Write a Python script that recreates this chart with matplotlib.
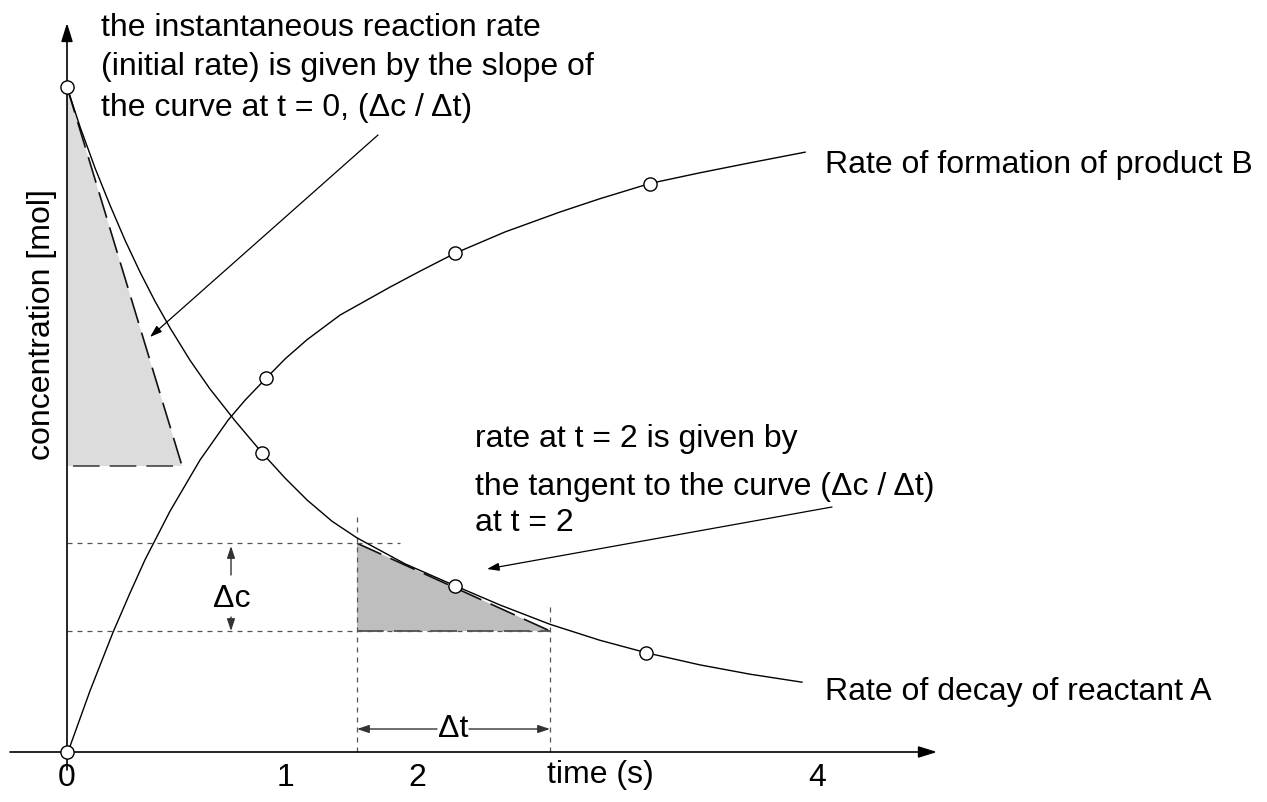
import matplotlib.pyplot as plt

plt.rcParams['font.family'] = ['Liberation Sans', 'DejaVu Sans']

# picture scale: t = 0 sits at px 67, one second = 195 px, concentration 1.0 = 665 px
W, H = 1267, 802
X0, Y0, SX, SY = 67, 752, 195.0, 665.0


def px(x, y):
    return (x - X0) / SX, (Y0 - y) / SY


# reactant A (decay)
decay_t = [0.000, 0.067, 0.144, 0.221, 0.297, 0.374, 0.451, 0.528, 0.631,
           0.733, 0.862, 1.000, 1.118, 1.231, 1.359, 1.487, 1.733, 1.990,
           2.221, 2.477, 2.733, 2.974, 3.246, 3.503, 3.769]
decay_c = [1.000, 0.940, 0.878, 0.822, 0.770, 0.722, 0.678, 0.638, 0.589,
           0.546, 0.498, 0.450, 0.412, 0.379, 0.347, 0.322, 0.283, 0.250,
           0.221, 0.192, 0.168, 0.149, 0.131, 0.117, 0.105]
decay_pts_t = [0.0, 1.0, 1.99, 2.97]
decay_pts_c = [1.0, 0.45, 0.25, 0.149]

# product B (formation)
form_t = [0.005, 0.118, 0.236, 0.323, 0.400, 0.528, 0.682, 0.826, 0.913,
          1.021, 1.118, 1.231, 1.400, 1.656, 1.810, 1.990, 2.246, 2.528,
          2.733, 2.990, 3.246, 3.503, 3.785]
form_c = [0.000, 0.092, 0.180, 0.239, 0.289, 0.362, 0.439, 0.499, 0.529,
          0.562, 0.591, 0.620, 0.657, 0.699, 0.723, 0.750, 0.782, 0.812,
          0.832, 0.855, 0.871, 0.886, 0.902]
form_pts_t = [0.0, 1.02, 1.99, 2.99]
form_pts_c = [0.0, 0.562, 0.750, 0.854]

# tangents (start, end)
tan0_t = [0.0, 0.59]
tan0_c = [1.0, 0.430]
tan2_t = [1.487, 2.477]
tan2_c = [0.314, 0.182]

tick_pos = [0.0, 1.118, 1.795, 3.846]
tick_labels = ['0', '1', '2', '4']
xlabel_pos = 2.733

FS = 23
small_head = dict(arrowstyle='-|>,head_length=0.6,head_width=0.2', color='black',
                  lw=0.9, mutation_scale=12, shrinkA=0, shrinkB=0)
grey_head = dict(small_head, color='#333333', lw=1.0)

fig = plt.figure(figsize=(12.67, 8.02), dpi=100)
ax = fig.add_axes([0, 0, 1, 1])
ax.set_xlim(px(0, 0)[0], px(W, 0)[0])
ax.set_ylim(px(0, H)[1], px(0, 0)[1])
ax.axis('off')

# shaded tangent triangles
ax.fill([tan0_t[0], tan0_t[0], tan0_t[1]], [tan0_c[0], tan0_c[1], tan0_c[1]],
        color='#dcdcdc', lw=0, zorder=1)
ax.fill([tan2_t[0], tan2_t[0], tan2_t[1]], [tan2_c[0], tan2_c[1], tan2_c[1]],
        color='#bebebe', lw=0, zorder=1)

# dashed tangents and bases
ax.plot(tan0_t, tan0_c, color='#111111', lw=1.2, dashes=(16, 6), zorder=2)
ax.plot([0.03, tan0_t[1]], [tan0_c[1]] * 2, color='#444444', lw=1.2, dashes=(16, 6), zorder=2)
ax.plot(tan2_t, tan2_c, color='#111111', lw=1.2, dashes=(16, 6), zorder=2)
ax.plot(tan2_t, [tan2_c[1]] * 2, color='#444444', lw=1.2, dashes=(16, 6), zorder=2)

# dotted guide lines
dot = dict(color='#555555', lw=0.9, dashes=(4, 4), zorder=2)
ax.plot([0, px(400, 0)[0]], [tan2_c[0]] * 2, **dot)
ax.plot([0, tan2_t[1]], [tan2_c[1]] * 2, **dot)
ax.plot([tan2_t[0]] * 2, [0, px(0, 514)[1]], **dot)
ax.plot([tan2_t[1]] * 2, [0, px(0, 605)[1]], **dot)

# axes with arrow heads
axis_head = dict(arrowstyle='-|>,head_length=0.8,head_width=0.25', color='black',
                 lw=1.2, mutation_scale=14, shrinkA=0, shrinkB=0)
ax.annotate('', xy=px(937, 752), xytext=px(10, 752), arrowprops=axis_head)
ax.annotate('', xy=px(67, 23), xytext=px(67, 770), arrowprops=axis_head)

# curves and points
ax.plot(decay_t, decay_c, color='black', lw=1.0, zorder=3)
ax.plot(form_t, form_c, color='black', lw=1.0, zorder=3)
mk = dict(ls='none', marker='o', ms=9.5, mfc='white', mec='black', mew=1.0, zorder=5)
ax.plot(decay_pts_t, decay_pts_c, **mk)
ax.plot(form_pts_t, form_pts_c, **mk)

# delta c / delta t markers
ax.annotate('', xy=px(231, 546), xytext=px(231, 575), arrowprops=grey_head)
ax.annotate('', xy=px(231, 631), xytext=px(231, 617), arrowprops=grey_head)
ax.text(*px(232, 599), '\u0394c', fontsize=FS, ha='center', va='center')
ax.annotate('', xy=px(357, 729), xytext=px(437, 729), arrowprops=grey_head)
ax.annotate('', xy=px(550, 729), xytext=px(469, 729), arrowprops=grey_head)
ax.text(*px(453, 729), '\u0394t', fontsize=FS, ha='center', va='center')

# annotation arrows
ax.annotate('', xy=px(150, 337), xytext=px(378, 135), arrowprops=small_head)
ax.annotate('', xy=px(487, 569), xytext=px(832, 507), arrowprops=small_head)

# texts
ax.text(*px(101, 36), 'the instantaneous reaction rate', fontsize=FS, va='baseline')
ax.text(*px(101, 75), '(initial rate) is given by the slope of', fontsize=FS, va='baseline')
ax.text(*px(101, 116), 'the curve at t = 0, (\u0394c / \u0394t)', fontsize=FS, va='baseline')

ax.text(*px(475, 447), 'rate at t = 2 is given by', fontsize=FS, va='baseline')
ax.text(*px(475, 495), 'the tangent to the curve (\u0394c / \u0394t)', fontsize=FS, va='baseline')
ax.text(*px(475, 531), 'at t = 2', fontsize=FS, va='baseline')

ax.text(*px(825, 173), 'Rate of formation of product B', fontsize=FS, va='baseline')
ax.text(*px(825, 700), 'Rate of decay of reactant A', fontsize=FS, va='baseline')

ax.text(*px(42, 325), 'concentration [mol]', fontsize=FS, rotation=90,
        ha='center', va='center')

for p, lab in zip(tick_pos, tick_labels):
    ax.text(p, px(0, 778)[1], lab, fontsize=FS, ha='center', va='center')
ax.text(xlabel_pos, px(0, 775)[1], 'time (s)', fontsize=FS, ha='center', va='center')

plt.savefig('out.png', dpi=100)
